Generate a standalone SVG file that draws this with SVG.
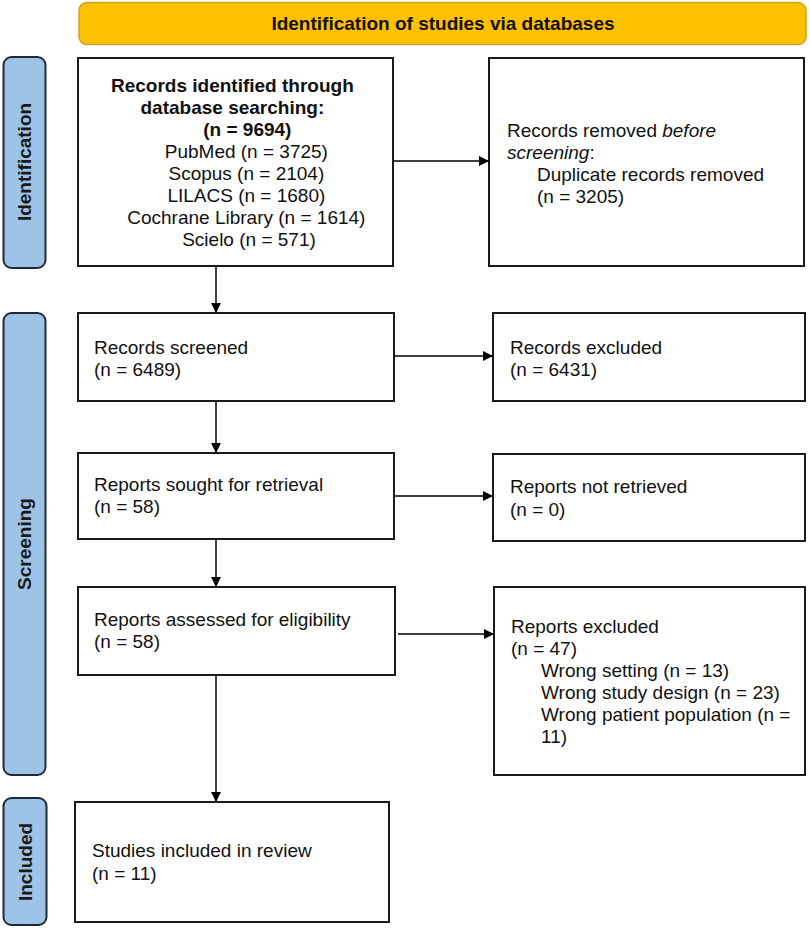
<svg xmlns="http://www.w3.org/2000/svg" width="810" height="928" viewBox="0 0 810 928">
<defs>
<marker id="ah" viewBox="0 0 10 10" refX="10" refY="5" markerWidth="10" markerHeight="10" markerUnits="userSpaceOnUse" orient="auto">
<path d="M0,0 L10,5 L0,10 z" fill="#000"/>
</marker>
<style>
.box{fill:#fff;stroke:#1a1a1a;stroke-width:2}
.side{fill:#9dc3e6;stroke:#1f2a36;stroke-width:2}
.t{font-family:"Liberation Sans",Arial,sans-serif;font-size:19px;fill:#111}
.b{font-weight:bold}
.lab{font-family:"Liberation Sans",Arial,sans-serif;font-size:19px;font-weight:bold;fill:#1a1a1a}
.c{stroke:#000;stroke-width:1.5;fill:none}
</style>
</defs>
<rect width="810" height="928" fill="#fff"/>

<g id="header">
<rect x="79" y="2.5" width="727" height="42" rx="8" fill="#ffc000" stroke="#c9a227" stroke-width="1.5"/>
<text class="t b" x="443" y="30" text-anchor="middle">Identification of studies via databases</text>
</g>

<g id="side-identification">
<rect class="side" x="3.5" y="57" width="42" height="211" rx="8"/>
<text class="lab" transform="translate(31,162) rotate(-90)" text-anchor="middle">Identification</text>
</g>
<g id="side-screening">
<rect class="side" x="3.5" y="313" width="42" height="462" rx="8"/>
<text class="lab" transform="translate(31,544) rotate(-90)" text-anchor="middle">Screening</text>
</g>
<g id="side-included">
<rect class="side" x="3.5" y="798" width="43" height="127" rx="8"/>
<text class="lab" transform="translate(32,862) rotate(-90)" text-anchor="middle">Included</text>
</g>

<g id="n-identified">
<rect class="box" x="78" y="58" width="315" height="208"/>
<text class="t" text-anchor="middle">
<tspan class="b" x="235" y="92">Records identified through</tspan>
<tspan class="b" x="235" y="114">database searching:</tspan>
<tspan class="b" x="250" y="136">(n = 9694)</tspan>
<tspan x="249" y="158">PubMed (n = 3725)</tspan>
<tspan x="249" y="180">Scopus (n = 2104)</tspan>
<tspan x="249" y="202">LILACS (n = 1680)</tspan>
<tspan x="249" y="224">Cochrane Library (n = 1614)</tspan>
<tspan x="249" y="246">Scielo (n = 571)</tspan>
</text>
</g>

<g id="n-removed">
<rect class="box" x="489" y="58" width="315" height="208"/>
<text class="t">
<tspan x="507" y="137">Records removed <tspan font-style="italic">before</tspan></tspan>
<tspan x="507" y="159"><tspan font-style="italic">screening</tspan>:</tspan>
<tspan x="537" y="181">Duplicate records removed</tspan>
<tspan x="537" y="203">(n = 3205)</tspan>
</text>
</g>

<g id="n-screened">
<rect class="box" x="78" y="313" width="316" height="88"/>
<text class="t"><tspan x="94" y="354">Records screened</tspan><tspan x="94" y="376">(n = 6489)</tspan></text>
</g>
<g id="n-excluded">
<rect class="box" x="493" y="313" width="312" height="88"/>
<text class="t"><tspan x="510" y="354">Records excluded</tspan><tspan x="510" y="376">(n = 6431)</tspan></text>
</g>

<g id="n-sought">
<rect class="box" x="78" y="453" width="316" height="86"/>
<text class="t"><tspan x="94" y="491">Reports sought for retrieval</tspan><tspan x="94" y="513">(n = 58)</tspan></text>
</g>
<g id="n-notretrieved">
<rect class="box" x="493" y="454" width="312" height="87"/>
<text class="t"><tspan x="510" y="493">Reports not retrieved</tspan><tspan x="510" y="516">(n = 0)</tspan></text>
</g>

<g id="n-assessed">
<rect class="box" x="78" y="587" width="317" height="88"/>
<text class="t"><tspan x="94" y="626">Reports assessed for eligibility</tspan><tspan x="94" y="648">(n = 58)</tspan></text>
</g>
<g id="n-reportsexcluded">
<rect class="box" x="494" y="587" width="311" height="188"/>
<text class="t">
<tspan x="511" y="633">Reports excluded</tspan>
<tspan x="511" y="655">(n = 47)</tspan>
<tspan x="541" y="677">Wrong setting (n = 13)</tspan>
<tspan x="541" y="699">Wrong study design (n = 23)</tspan>
<tspan x="541" y="721">Wrong patient population (n =</tspan>
<tspan x="541" y="743">11)</tspan>
</text>
</g>

<g id="n-included">
<rect class="box" x="75" y="802" width="314" height="120"/>
<text class="t"><tspan x="92" y="857">Studies included in review</tspan><tspan x="92" y="880">(n = 11)</tspan></text>
</g>

<g id="connectors">
<line class="c" x1="393" y1="161" x2="489" y2="161" marker-end="url(#ah)"/>
<line class="c" x1="216" y1="266" x2="216" y2="313" marker-end="url(#ah)"/>
<line class="c" x1="394" y1="356" x2="493" y2="356" marker-end="url(#ah)"/>
<line class="c" x1="216" y1="401" x2="216" y2="453" marker-end="url(#ah)"/>
<line class="c" x1="394" y1="496" x2="493" y2="496" marker-end="url(#ah)"/>
<line class="c" x1="216" y1="539" x2="216" y2="587" marker-end="url(#ah)"/>
<line class="c" x1="398" y1="634" x2="494" y2="634" marker-end="url(#ah)"/>
<line class="c" x1="216" y1="675" x2="216" y2="802" marker-end="url(#ah)"/>
</g>
</svg>
